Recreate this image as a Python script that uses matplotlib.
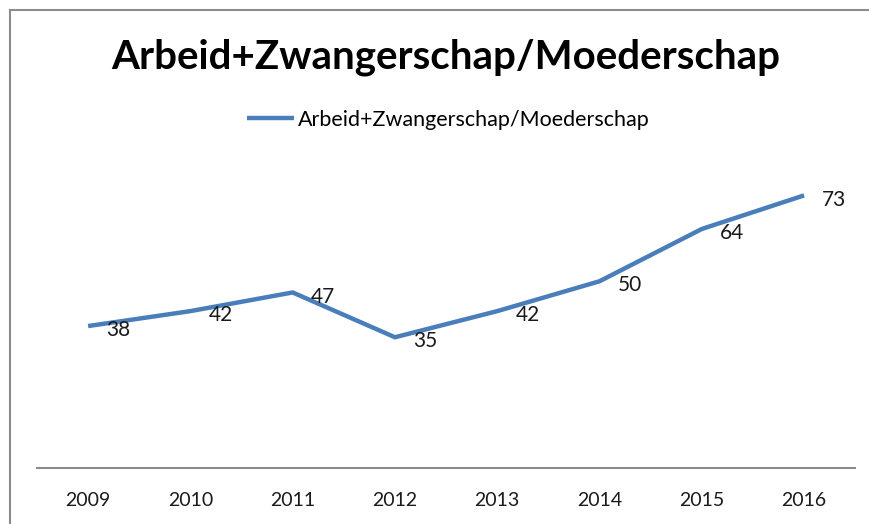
import matplotlib
matplotlib.use("Agg")
import matplotlib.pyplot as plt
from matplotlib.lines import Line2D

YEARS = ["2009", "2010", "2011", "2012", "2013", "2014", "2015", "2016"]
VALUES = [38, 42, 47, 35, 42, 50, 64, 73]
SERIES = "Arbeid+Zwangerschap/Moederschap"
TITLE = "Arbeid+Zwangerschap/Moederschap"

BLUE = "#4A7EBB"
plt.rcParams["font.family"] = ["Lato", "DejaVu Sans"]

fig = plt.figure(figsize=(8.7, 5.24), dpi=100)
ax = fig.add_axes([0.0425, 0.107, 0.9405, 0.57])

x = list(range(len(YEARS)))
ax.plot(x, VALUES, color=BLUE, lw=3.2, solid_joinstyle="round",
        solid_capstyle="butt", label=SERIES)
for xi, v in zip(x, VALUES):
    ax.annotate(str(v), (xi, v), xytext=(13, -3), textcoords="offset points",
                ha="left", va="center", fontsize=15, color="#1a1a1a")

ax.set_xlim(-0.5, len(YEARS) - 0.5)
ax.set_ylim(0, 80)
ax.set_xticks(x)
ax.set_xticklabels(YEARS, fontsize=14, color="#1a1a1a")
ax.tick_params(axis="x", length=0, pad=17)
ax.set_yticks([])
for side in ("left", "right", "top"):
    ax.spines[side].set_visible(False)
ax.spines["bottom"].set_color("#8c8c8c")
ax.spines["bottom"].set_linewidth(1.5)

fig.text(0.512, 0.89, TITLE, ha="center", va="center",
         fontsize=29, fontweight="bold", color="black")
fig.legend(loc="center", bbox_to_anchor=(0.515, 0.771), frameon=False,
           fontsize=15.5, handlelength=2.2, handletextpad=0.15)

# outer chart frame (top and left edges visible)
fig.add_artist(Line2D([10 / 870, 1], [1 - 10 / 524, 1 - 10 / 524],
                      transform=fig.transFigure, color="#8c8c8c", lw=1.5))
fig.add_artist(Line2D([10 / 870, 10 / 870], [0, 1 - 10 / 524],
                      transform=fig.transFigure, color="#8c8c8c", lw=1.5))

fig.savefig("out.png", dpi=100, facecolor="white")
